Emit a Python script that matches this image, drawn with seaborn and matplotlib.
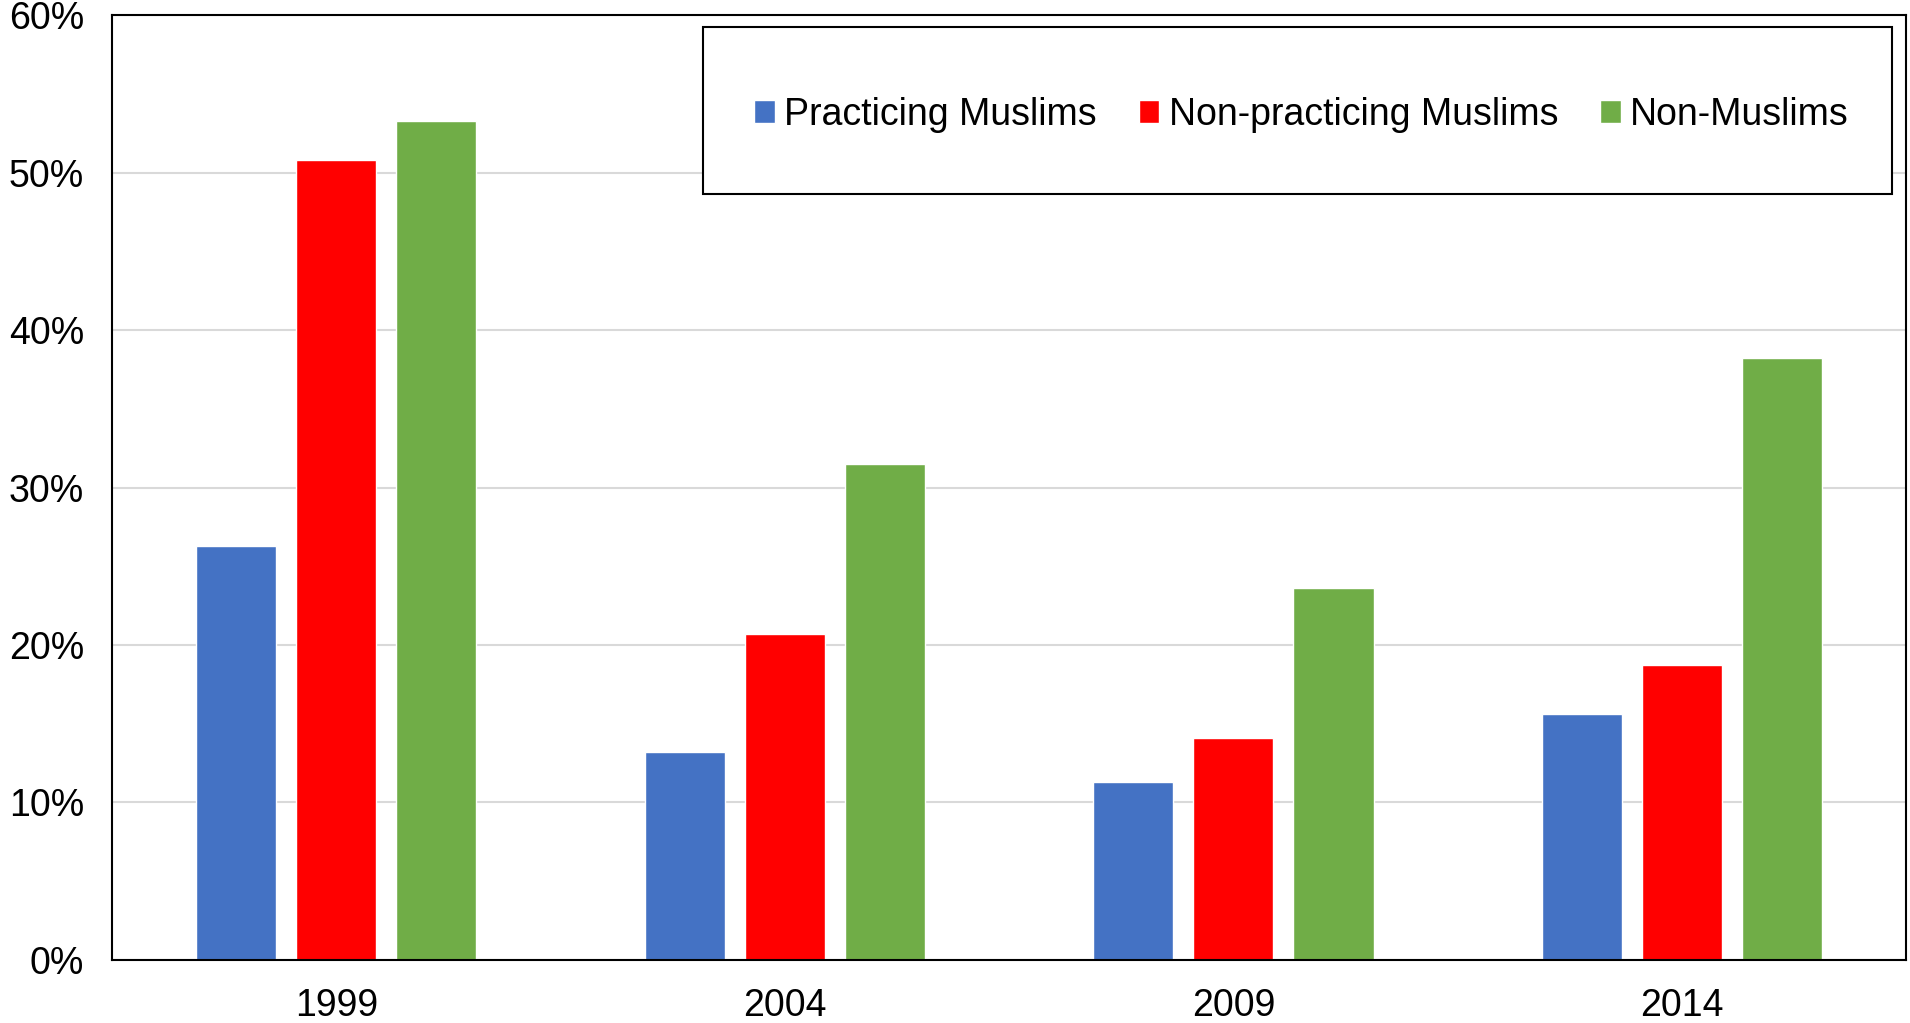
import matplotlib
matplotlib.use("Agg")
import matplotlib.pyplot as plt
import seaborn as sns
import pandas as pd
from matplotlib.patches import Rectangle
from matplotlib.ticker import PercentFormatter

years = ["1999", "2004", "2009", "2014"]
groups = ["Practicing Muslims", "Non-practicing Muslims", "Non-Muslims"]
practicing = [26.3, 13.2, 11.3, 15.6]
non_practicing = [50.8, 20.7, 14.1, 18.7]
non_muslims = [53.3, 31.5, 23.6, 38.2]
colors = ["#4472C4", "#FF0000", "#70AD47"]

rows = []
for g, vals in zip(groups, [practicing, non_practicing, non_muslims]):
    for y, v in zip(years, vals):
        rows.append({"year": y, "group": g, "value": v})
df = pd.DataFrame(rows)

sns.set_theme(style="white")
plt.rcParams["font.family"] = ["Liberation Sans", "DejaVu Sans"]

fig = plt.figure(figsize=(19.10, 10.23), dpi=100)
ax = fig.add_axes([0.0586, 0.0616, 0.9394, 0.9237])

sns.barplot(data=df, x="year", y="value", hue="group", palette=colors,
            order=years, hue_order=groups, width=0.67, gap=0.2,
            saturation=1, ax=ax)

ax.set_ylim(0, 60)
ax.set_yticks(range(0, 61, 10))
ax.yaxis.set_major_formatter(PercentFormatter(decimals=0))
ax.grid(axis="y", color="#d9d9d9", linewidth=1.5)
ax.set_axisbelow(True)
ax.set_xlabel("")
ax.set_ylabel("")
ax.tick_params(axis="both", length=0, labelsize=27, colors="black")
ax.tick_params(axis="x", pad=20)
ax.tick_params(axis="y", pad=20)
for s in ax.spines.values():
    s.set_visible(True)
    s.set_color("black")
    s.set_linewidth(1.5)

# legend box drawn separately so the padding can differ per side
box = Rectangle((0.3294, 0.8106), 0.6628, 0.1767, transform=ax.transAxes,
                facecolor="white", edgecolor="black", linewidth=1.5, zorder=4)
ax.add_patch(box)
leg = ax.legend(loc="center left", bbox_to_anchor=(0.3579, 0.8945),
                ncol=3, fontsize=27, frameon=False, labelcolor="black",
                handlelength=0.55, handleheight=0.55,
                handletextpad=0.25, borderpad=0, columnspacing=1.12,
                borderaxespad=0)
leg.set_zorder(5)

fig.savefig("out.png", dpi=100, facecolor="white")
